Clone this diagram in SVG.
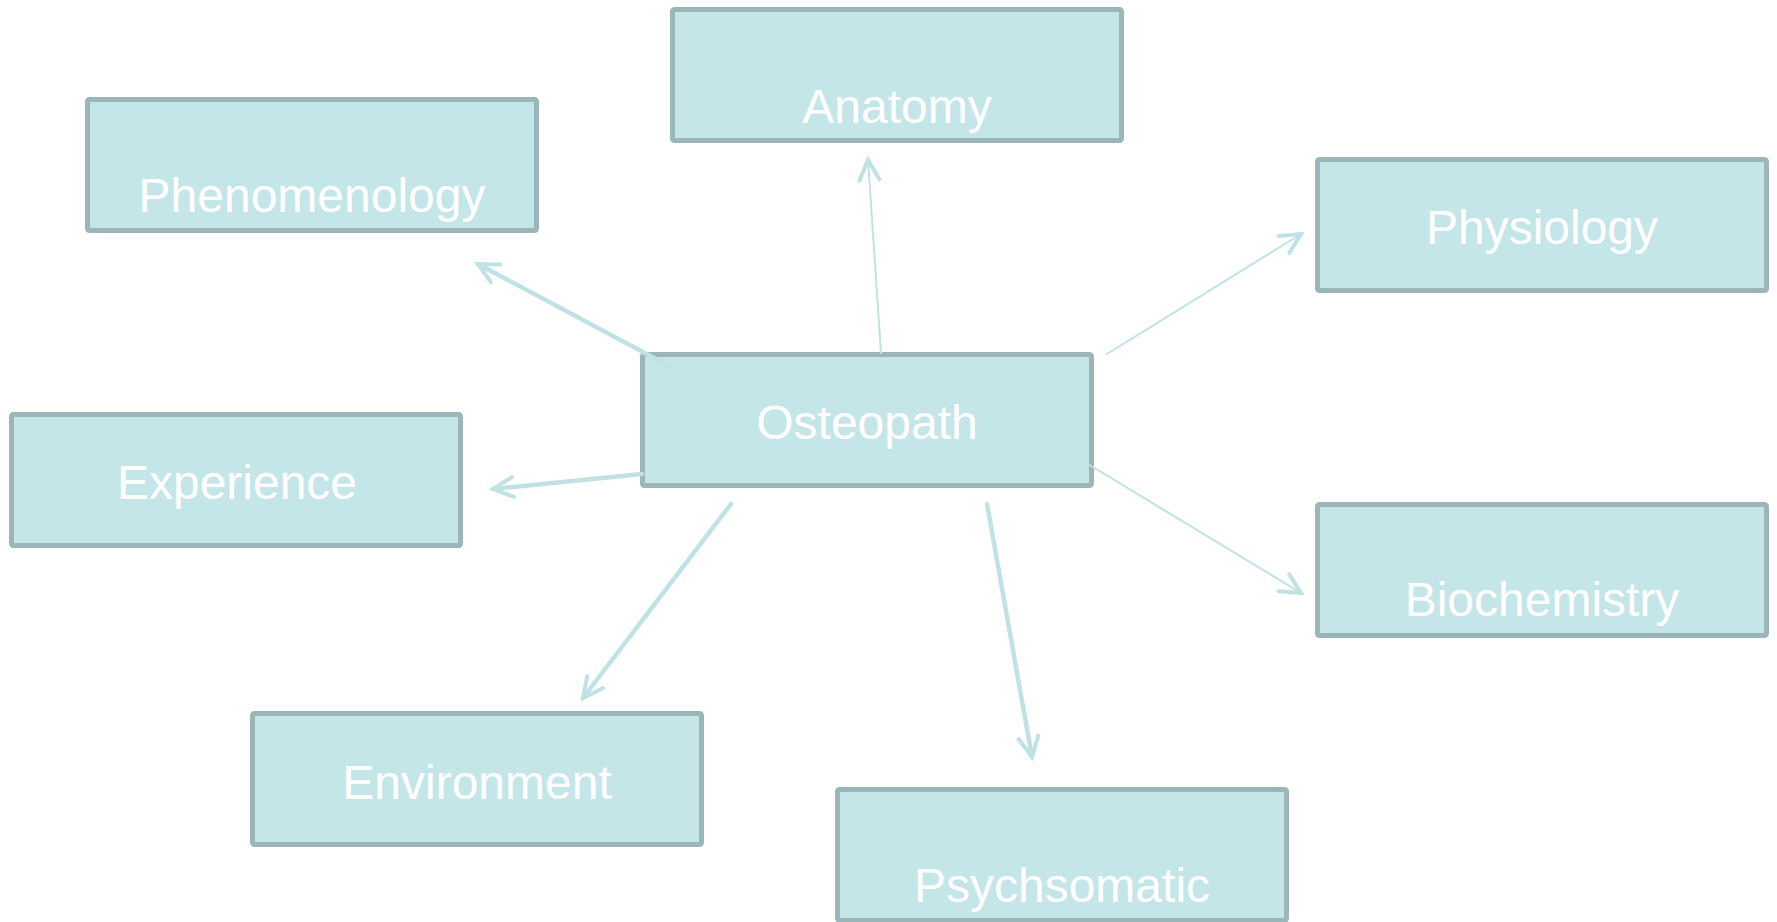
<svg xmlns="http://www.w3.org/2000/svg" width="1777" height="922" viewBox="0 0 1777 922">
  <style>
    .box { fill: #c5e6e8; stroke: #9bb5b8; stroke-width: 5; }
    .label { fill: #ffffff; font-family: "Liberation Sans", Arial, sans-serif; font-size: 48px; text-anchor: middle; }
    .link { fill: none; stroke: #c0e2e5; stroke-linecap: round; }
    .thin { stroke-width: 2; }
    .thick { stroke-width: 4.5; }
    .head { fill: none; stroke: #c0e2e5; stroke-width: 4; stroke-linecap: round; stroke-linejoin: miter; }
  </style>
  <defs>
    <marker id="arrow" markerUnits="userSpaceOnUse" markerWidth="44" markerHeight="44" refX="32" refY="22" orient="auto" overflow="visible">
      <path class="head" d="M12,12 L32,22 L12,32"/>
    </marker>
  </defs>
  <rect width="1777" height="922" fill="#ffffff"/>

  <g id="nodes">
    <g id="anatomy">
      <rect class="box" x="672.5" y="9.5" width="449" height="131" rx="2"/>
      <text class="label" x="897" y="123">Anatomy</text>
    </g>
    <g id="phenomenology">
      <rect class="box" x="87.5" y="99.5" width="449" height="131" rx="2"/>
      <text class="label" x="312" y="212">Phenomenology</text>
    </g>
    <g id="physiology">
      <rect class="box" x="1317.5" y="159.5" width="449" height="131" rx="2"/>
      <text class="label" x="1542" y="244">Physiology</text>
    </g>
    <g id="osteopath">
      <rect class="box" x="642.5" y="354.5" width="449" height="131" rx="2"/>
      <text class="label" x="867" y="439">Osteopath</text>
    </g>
    <g id="experience">
      <rect class="box" x="11.5" y="414.5" width="449" height="131" rx="2"/>
      <text class="label" x="237" y="499">Experience</text>
    </g>
    <g id="biochemistry">
      <rect class="box" x="1317.5" y="504.5" width="449" height="131" rx="2"/>
      <text class="label" x="1542" y="616">Biochemistry</text>
    </g>
    <g id="environment">
      <rect class="box" x="252.5" y="713.5" width="449" height="131" rx="2"/>
      <text class="label" x="477" y="799">Environment</text>
    </g>
    <g id="psychsomatic">
      <rect class="box" x="837.5" y="789.5" width="449" height="131" rx="2"/>
      <text class="label" x="1062" y="902">Psychsomatic</text>
    </g>
  </g>

  <g id="connectors">
    <line class="link thin" x1="881" y1="353" x2="868" y2="160" marker-end="url(#arrow)"/>
    <line class="link thick" x1="671" y1="367" x2="478" y2="264" marker-end="url(#arrow)"/>
    <line class="link thin" x1="1107" y1="354" x2="1301" y2="234" marker-end="url(#arrow)"/>
    <line class="link thick" x1="642" y1="474" x2="493" y2="489" marker-end="url(#arrow)"/>
    <line class="link thick" x1="731" y1="504" x2="583" y2="698" marker-end="url(#arrow)"/>
    <line class="link thick" x1="987" y1="504" x2="1032" y2="757" marker-end="url(#arrow)"/>
    <line class="link thin" x1="1078" y1="458" x2="1301" y2="593" marker-end="url(#arrow)"/>
  </g>
</svg>
